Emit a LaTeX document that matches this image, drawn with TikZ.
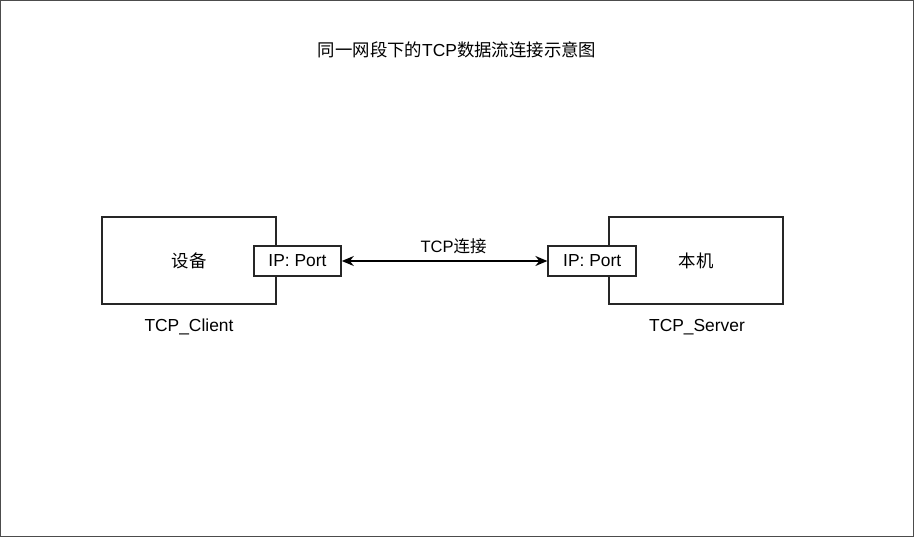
\documentclass[tikz,border=0pt]{standalone}
\usepackage{fontspec}
\setmainfont{Liberation Sans}
\newfontfamily\cjk{Noto Sans CJK SC}
\usetikzlibrary{arrows.meta}
\begin{document}
\begin{tikzpicture}[x=1pt,y=-1pt,
  every node/.style={font=\fontsize{17.4}{20}\selectfont, inner sep=0pt},
  hostbox/.style={draw=black!85, line width=1.6pt, fill=white, minimum width=174pt, minimum height=87pt},
  portbox/.style={draw=black!85, line width=1.6pt, fill=white, minimum width=87pt, minimum height=30pt},
  link/.style={line width=1.6pt, {Stealth[length=12pt,width=10pt]}-{Stealth[length=12pt,width=10pt]}}
]
  % frame
  \draw[black!70, line width=1pt] (0.5,0.5) rectangle (913.5,536.5);
  \useasboundingbox (0,0) rectangle (914,537);

  % title
  \node (title) at (457,50) {{\cjk 同一网段下的}TCP{\cjk 数据流连接示意图}};

  % hosts
  \node[hostbox] (dev) at (189,260.5) {};
  \node (devname) at (189,261) {\cjk 设备};
  \node[hostbox] (srv) at (696,260.5) {};
  \node (srvname) at (696,261) {\cjk 本机};

  % ports
  \node[portbox] (devport) at (297.5,261) {IP: Port};
  \node[portbox, minimum width=88pt] (srvport) at (592.2,261) {IP: Port};

  % role labels
  \node (client) at (189,327) {TCP\_Client};
  \node (server) at (697,327) {TCP\_Server};

  % connection
  \draw[link] (devport.east) -- node[midway, yshift=15pt, xshift=9pt, font=\fontsize{16.5}{19}\selectfont] (lbl) {TCP{\cjk 连接}} (srvport.west);
\end{tikzpicture}
\end{document}
